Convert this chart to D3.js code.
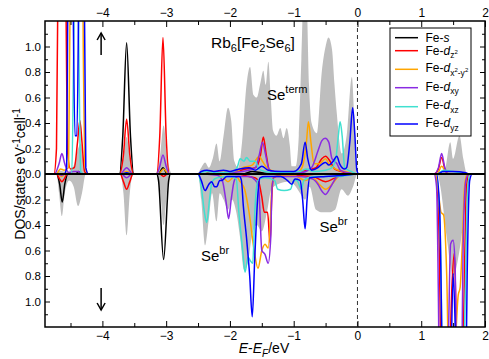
<!DOCTYPE html>
<html><head><meta charset="utf-8">
<script src="https://cdn.jsdelivr.net/npm/d3@7"></script>
<style>body{margin:0;background:#fff}svg{display:block;font-family:"Liberation Sans",Arial,sans-serif}</style>
</head><body><svg id="c" width="489" height="359"></svg>
<script>
// ---------- DATA (energy in eV, DOS in states eV^-1 cell^-1; "dn" = spin-down magnitude) ----------
const xTicks = [-4, -3, -2, -1, 0, 1, 2];
const yTickLabels = [-1.0, -0.8, -0.6, -0.4, -0.2, 0.0, 0.2, 0.4, 0.6, 0.8, 1.0];

const se_up = [[-4.9,0],[-4.74,0],[-4.68,0.03],[-4.6,0.02],[-4.5,0.03],[-4.44,0.08],[-4.38,0.2],[-4.34,0.24],[-4.3,0.12],[-4.25,0],
[-3.76,0],[-3.68,0.1],[-3.62,0.29],[-3.56,0.1],[-3.48,0],
[-3.18,0],[-3.1,0.12],[-3.04,0.38],[-2.98,0.12],[-2.9,0],
[-2.52,0],[-2.45,0.05],[-2.39,0.09],[-2.33,0.05],[-2.27,0.12],[-2.21,0.24],[-2.16,0.1],[-2.1,0.3],[-2.03,0.52],[-1.98,0.42],[-1.93,0.1],[-1.87,0.05],[-1.81,0.25],[-1.74,0.7],[-1.684,0.84],[-1.63,0.62],[-1.58,0.6],[-1.52,0.72],[-1.476,0.81],[-1.44,0.7],[-1.397,0.88],[-1.36,0.6],[-1.323,0.34],[-1.27,0.3],[-1.21,0.36],[-1.16,0.28],[-1.11,0.36],[-1.06,0.22],[-1.03,0.06],[-0.97,0.06],[-0.92,0.3],[-0.88,0.9],[-0.84,1.5],[-0.8,1.4],[-0.76,0.7],[-0.72,0.4],[-0.637,0.32],[-0.56,0.8],[-0.5,1.0],[-0.455,1.07],[-0.4,0.98],[-0.36,0.7],[-0.323,0.47],[-0.245,0.16],[-0.17,0.3],[-0.088,0.76],[-0.05,0.45],[-0.01,0],
[1.3,0],[1.38,0.05],[1.455,0.25],[1.5,0.12],[1.6,0.3],[1.66,0.12],[1.72,0],[2.0,0]];
const se_dn = [[-4.9,0],[-4.72,0],[-4.68,0.15],[-4.635,0.33],[-4.59,0.15],[-4.52,0.05],[-4.45,0.1],[-4.38,0.25],[-4.32,0.15],[-4.26,0],
[-3.72,0],[-3.67,0.15],[-3.62,0.48],[-3.57,0.15],[-3.52,0],
[-3.15,0],[-3.09,0.15],[-3.04,0.4],[-2.99,0.15],[-2.93,0],
[-2.5,0],[-2.45,0.2],[-2.39,0.56],[-2.33,0.35],[-2.28,0.15],[-2.21,0.37],[-2.16,0.15],[-2.1,0.2],[-2.03,0.28],[-1.97,0.2],[-1.9,0.3],[-1.84,0.5],[-1.78,0.75],[-1.72,0.7],[-1.66,0.5],[-1.58,0.4],[-1.5,0.45],[-1.42,0.3],[-1.35,0.12],[-1.25,0.08],[-1.1,0.06],[-1.0,0.08],[-0.9,0.15],[-0.82,0.2],[-0.75,0.1],[-0.65,0.28],[-0.55,0.3],[-0.45,0.3],[-0.35,0.28],[-0.25,0.12],[-0.15,0.17],[-0.07,0.1],[0,0],
[1.25,0],[1.3,0.1],[1.4,0.5],[1.5,0.8],[1.6,0.6],[1.7,0.2],[1.75,0],[2,0]];

const feS_up = [[-4.9,0],[-4.42,0],[-4.37,0.02],[-4.32,0],[-3.73,0],[-3.68,0.3],[-3.62,1.03],[-3.56,0.3],[-3.51,0],[-3.12,0],[-3.05,0.05],[-2.98,0],[-1.8,0],[-1.65,0.02],[-1.5,0.01],[-1.3,0],[2,0]];
const feS_dn = [[-4.9,0],[-4.72,0],[-4.67,0.08],[-4.63,0.22],[-4.59,0.08],[-4.54,0],[-3.15,0],[-3.12,0.05],[-3.04,0.67],[-2.96,0.05],[-2.93,0],[2,0]];

const feDz2_up = [[-4.9,0],[-4.76,0],[-4.72,0.2],[-4.69,2],[-4.635,4],[-4.58,2],[-4.55,0.2],[-4.5,0.04],[-4.44,0.05],[-4.39,0.25],[-4.353,0.42],[-4.32,0.25],[-4.28,0.02],[-4.24,0],
[-3.73,0],[-3.67,0.15],[-3.62,0.43],[-3.57,0.15],[-3.51,0],
[-3.15,0],[-3.1,0.3],[-3.05,1.07],[-3.0,0.3],[-2.95,0],
[-2.4,0],[-2.3,0.02],[-2.1,0.01],[-1.9,0.02],[-1.75,0.04],[-1.6,0.05],[-1.52,0.15],[-1.476,0.29],[-1.43,0.15],[-1.38,0.03],[-1.2,0.01],[-0.9,0.02],[-0.8,0.03],[-0.65,0.05],[-0.56,0.12],[-0.5,0.14],[-0.43,0.1],[-0.36,0.04],[-0.25,0.02],[-0.1,0],
[1.2,0],[1.27,0.04],[1.32,0.13],[1.37,0.04],[1.42,0],[2,0]];
const feDz2_dn = [[-4.9,0],[-4.72,0],[-4.67,0.04],[-4.635,0.06],[-4.6,0.04],[-4.55,0],
[-3.72,0],[-3.67,0.06],[-3.62,0.12],[-3.57,0.06],[-3.52,0],
[-3.1,0],[-3.04,0.02],[-2.98,0],
[-1.9,0],[-1.7,0.02],[-1.6,0.03],[-1.55,0.06],[-1.5,0.18],[-1.46,0.3],[-1.41,0.3],[-1.37,0.54],[-1.345,0.2],[-1.32,0.03],[-1.2,0.01],[-0.7,0.02],[-0.5,0.06],[-0.35,0.03],[-0.2,0],
[1.22,0],[1.27,0.3],[1.31,1.5],[1.36,2.5],[1.42,2],[1.48,0.9],[1.52,0.62],[1.56,1.5],[1.62,2.5],[1.67,1],[1.71,0.1],[1.75,0],[2,0]];

const feDx2y2_up = [[-4.9,0],[-4.72,0],[-4.66,0.04],[-4.6,0.03],[-4.53,0.05],[-4.49,2.5],[-4.46,4],[-4.42,2.5],[-4.39,1.2],[-4.36,2],[-4.33,3],[-4.3,1],[-4.27,0.05],[-4.22,0],
[-3.72,0],[-3.62,0.02],[-3.52,0],[-3.12,0],[-3.04,0.04],[-2.96,0],
[-2.4,0],[-2.2,0.01],[-1.9,0.02],[-1.8,0.05],[-1.65,0.07],[-1.58,0.12],[-1.54,0.14],[-1.49,0.1],[-1.4,0.04],[-1.2,0.01],[-0.95,0.01],[-0.87,0.05],[-0.8,0.25],[-0.769,0.41],[-0.73,0.25],[-0.68,0.08],[-0.6,0.08],[-0.5,0.12],[-0.45,0.08],[-0.35,0.04],[-0.2,0.02],[0,0],
[1.25,0],[1.32,0.06],[1.38,0.02],[1.45,0],[2,0]];
const feDx2y2_dn = [[-4.9,0],[-4.7,0],[-4.64,0.02],[-4.58,0],
[-2.2,0],[-2.1,0.03],[-2.03,0.06],[-1.96,0.03],[-1.9,0.02],[-1.84,0.06],[-1.77,0.12],[-1.7,0.3],[-1.62,0.6],[-1.56,0.74],[-1.5,0.6],[-1.45,0.55],[-1.4,0.58],[-1.36,0.3],[-1.34,0.08],[-1.3,0.02],[-1.0,0.01],[-0.82,0.05],[-0.7,0.03],[-0.6,0.08],[-0.5,0.12],[-0.4,0.08],[-0.3,0.02],[-0.2,0],
[1.22,0],[1.27,0.15],[1.31,0.3],[1.35,0.32],[1.4,0.8],[1.45,2],[1.52,1.5],[1.58,0.95],[1.61,0.89],[1.64,0.6],[1.68,0.1],[1.72,0],[2,0]];

const feDxy_up = [[-4.9,0],[-4.75,0],[-4.68,0.08],[-4.635,0.16],[-4.59,0.08],[-4.53,0.01],[-4.45,0.02],[-4.38,0.02],[-4.3,0],
[-3.72,0],[-3.62,0.05],[-3.52,0],
[-3.15,0],[-3.1,0.06],[-3.05,0.15],[-3.0,0.06],[-2.95,0],
[-2.4,0],[-2.1,0.01],[-1.8,0.02],[-1.6,0.05],[-1.54,0.15],[-1.49,0.25],[-1.44,0.15],[-1.39,0.04],[-1.3,0.01],[-0.9,0.01],[-0.72,0.05],[-0.62,0.18],[-0.56,0.26],[-0.507,0.28],[-0.45,0.25],[-0.4,0.12],[-0.32,0.08],[-0.27,0.03],[-0.15,0.01],[0,0],
[1.2,0],[1.27,0.05],[1.32,0.16],[1.37,0.05],[1.42,0],[2,0]];
const feDxy_dn = [[-4.9,0],[-4.7,0],[-4.64,0.01],[-4.58,0],
[-3.7,0],[-3.62,0.03],[-3.54,0],
[-2.5,0],[-2.2,0.01],[-2.12,0.05],[-2.06,0.22],[-2.02,0.35],[-1.98,0.2],[-1.93,0.05],[-1.88,0.02],[-1.7,0.02],[-1.6,0.05],[-1.55,0.1],[-1.5,0.6],[-1.45,0.63],[-1.4,0.7],[-1.36,0.5],[-1.34,0.1],[-1.3,0.02],[-0.9,0.02],[-0.7,0.04],[-0.62,0.08],[-0.55,0.14],[-0.5,0.16],[-0.42,0.1],[-0.35,0.04],[-0.25,0],
[1.2,0],[1.24,0.1],[1.27,1.0],[1.3,2.5],[1.38,2.5],[1.43,1.2],[1.46,0.55],[1.5,0.52],[1.53,0.7],[1.57,2],[1.62,2],[1.66,0.5],[1.7,0.05],[1.75,0],[2,0]];

const feDxz_up = [[-4.9,0],[-4.48,0],[-4.45,1],[-4.41,3],[-4.37,1],[-4.34,0.02],[-4.3,0],
[-3.7,0],[-3.62,0.01],[-3.54,0],
[-2.5,0],[-2.4,0.02],[-2.2,0.01],[-1.95,0.02],[-1.88,0.06],[-1.84,0.12],[-1.78,0.1],[-1.74,0.13],[-1.68,0.1],[-1.6,0.1],[-1.55,0.04],[-1.45,0.02],[-1.3,0.01],[-0.9,0.02],[-0.8,0.04],[-0.7,0.02],[-0.5,0.03],[-0.4,0.05],[-0.34,0.12],[-0.3,0.3],[-0.272,0.41],[-0.24,0.3],[-0.2,0.05],[-0.1,0.02],[0,0],
[1.25,0],[1.35,0.03],[1.6,0.01],[1.7,0],[2,0]];
const feDxz_dn = [[-4.9,0],[-2.5,0],[-2.45,0.1],[-2.4,0.3],[-2.364,0.38],[-2.32,0.2],[-2.28,0.06],[-2.2,0.03],[-2.0,0.02],[-1.9,0.04],[-1.86,0.3],[-1.8,0.6],[-1.763,0.77],[-1.716,0.65],[-1.68,0.68],[-1.642,0.7],[-1.61,0.3],[-1.56,0.05],[-1.45,0.03],[-1.3,0.05],[-1.25,0.12],[-1.15,0.13],[-1.05,0.12],[-1.0,0.05],[-0.95,0.05],[-0.88,0.12],[-0.84,0.05],[-0.7,0.02],[-0.3,0.02],[0,0],
[1.24,0],[1.3,0.5],[1.35,2],[1.45,2],[1.5,1.5],[1.6,2],[1.68,1.2],[1.73,0.1],[1.77,0],[2,0]];

const feDyz_up = [[-4.9,0],[-4.6,0],[-4.56,0.05],[-4.53,2.5],[-4.5,3.5],[-4.47,2],[-4.43,0.3],[-4.4,0.3],[-4.36,2],[-4.32,3.5],[-4.29,2],[-4.26,0.05],[-4.22,0],
[-3.7,0],[-3.62,0.01],[-3.54,0],
[-2.5,0],[-2.45,0.02],[-2.36,0.03],[-2.25,0.02],[-2.1,0.03],[-2.0,0.02],[-1.85,0.04],[-1.7,0.05],[-1.6,0.03],[-1.5,0.06],[-1.4,0.03],[-1.2,0.02],[-1.0,0.02],[-0.88,0.08],[-0.821,0.25],[-0.78,0.12],[-0.72,0.03],[-0.62,0.05],[-0.55,0.08],[-0.5,0.09],[-0.45,0.07],[-0.38,0.1],[-0.323,0.14],[-0.28,0.08],[-0.2,0.04],[-0.17,0.05],[-0.12,0.25],[-0.075,0.52],[-0.04,0.3],[-0.01,0.03],[0.02,0],
[1.25,0],[1.35,0.02],[1.5,0.02],[1.7,0.01],[1.75,0],[2,0]];
const feDyz_dn = [[-4.9,0],[-2.5,0],[-2.45,0.05],[-2.39,0.13],[-2.33,0.08],[-2.286,0.06],[-2.24,0.1],[-2.207,0.1],[-2.16,0.05],[-2.129,0.05],[-2.05,0.02],[-1.85,0.02],[-1.82,0.05],[-1.79,0.25],[-1.74,0.5],[-1.69,0.8],[-1.65,1.12],[-1.61,0.65],[-1.56,0.15],[-1.53,0.03],[-1.45,0.02],[-1.2,0.02],[-1.1,0.05],[-1.03,0.08],[-0.98,0.04],[-0.9,0.05],[-0.86,0.2],[-0.821,0.43],[-0.79,0.2],[-0.75,0.03],[-0.5,0.02],[-0.2,0.01],[0,0],
[1.24,0],[1.29,0.3],[1.33,1.5],[1.37,2.5],[1.45,2],[1.5,0.78],[1.55,1.5],[1.62,2.5],[1.69,2],[1.72,0.8],[1.76,0.05],[1.8,0],[2,0]];

const seriesNames = ["s", "dz2", "dx2y2", "dxy", "dxz", "dyz"];
const seriesColors = ["#000000", "#ff0000", "#ffa500", "#8a2be2", "#40e0d0", "#0000ff"];
const seriesUp = [feS_up, feDz2_up, feDx2y2_up, feDxy_up, feDxz_up, feDyz_up];
const seriesDn = [feS_dn, feDz2_dn, feDx2y2_dn, feDxy_dn, feDxz_dn, feDyz_dn];

// ---------- CHART ----------
const L = 45, R = 485, T = 21, B = 327;
const x = d3.scaleLinear().domain([-4.9, 2.0]).range([L, R]);
const y = d3.scaleLinear().domain([-1.2, 1.2]).range([B, T]);
const svg = d3.select('#c');

svg.append('defs').append('clipPath').attr('id', 'clip')
  .append('rect').attr('x', L).attr('y', T).attr('width', R - L).attr('height', B - T);
const plot = svg.append('g').attr('clip-path', 'url(#clip)');

const area = s => d3.area().x(d => x(d[0])).y0(y(0)).y1(d => y(s * d[1])).curve(d3.curveMonotoneX);
const line = s => d3.line().x(d => x(d[0])).y(d => y(s * d[1])).curve(d3.curveMonotoneX);

plot.append('path').datum(se_up).attr('d', area(1)).attr('fill', '#bebebe');
plot.append('path').datum(se_dn).attr('d', area(-1)).attr('fill', '#bebebe');

plot.append('line').attr('x1', x(0)).attr('x2', x(0)).attr('y1', T).attr('y2', B)
  .attr('stroke', '#333').attr('stroke-width', 1).attr('stroke-dasharray', '4,3');

seriesNames.forEach((n, i) => {
  plot.append('path').datum(seriesUp[i]).attr('d', line(1)).attr('fill', 'none')
    .attr('stroke', seriesColors[i]).attr('stroke-width', 1.5);
  plot.append('path').datum(seriesDn[i]).attr('d', line(-1)).attr('fill', 'none')
    .attr('stroke', seriesColors[i]).attr('stroke-width', 1.5);
});

// zero line
svg.append('line').attr('x1', L).attr('x2', R).attr('y1', y(0)).attr('y2', y(0))
  .attr('stroke', '#000').attr('stroke-width', 2.2);

// axes
const fmtY = d => Math.abs(d).toFixed(1);
const yMinor = d3.range(-11, 12, 2).map(v => v / 10);
const xMinor = d3.range(-9, 5, 2).map(v => v / 2);
function styleAxis(g, fs) {
  g.select('.domain').remove();
  g.selectAll('line').attr('stroke', '#000').attr('stroke-width', 1);
  g.selectAll('text').attr('font-size', fs).attr('fill', '#000')
    .attr('font-family', '"Liberation Sans",Arial,sans-serif');
}
svg.append('g').attr('transform', `translate(${L},0)`)
  .call(d3.axisLeft(y).tickValues(yTickLabels).tickSize(-5).tickPadding(4).tickFormat(fmtY))
  .call(g => styleAxis(g, 11.5));
svg.append('g').attr('transform', `translate(${L},0)`)
  .call(d3.axisLeft(y).tickValues(yMinor).tickSize(-3).tickFormat(''))
  .call(g => styleAxis(g, 0));
svg.append('g').attr('transform', `translate(${R},0)`)
  .call(d3.axisRight(y).tickValues(yTickLabels).tickSize(-5).tickFormat(''))
  .call(g => styleAxis(g, 0));
svg.append('g').attr('transform', `translate(${R},0)`)
  .call(d3.axisRight(y).tickValues(yMinor).tickSize(-3).tickFormat(''))
  .call(g => styleAxis(g, 0));
svg.append('g').attr('transform', `translate(0,${B})`)
  .call(d3.axisBottom(x).tickValues(xTicks).tickSize(-6).tickPadding(4).tickFormat(d3.format('d')))
  .call(g => styleAxis(g, 12));
svg.append('g').attr('transform', `translate(0,${B})`)
  .call(d3.axisBottom(x).tickValues(xMinor).tickSize(-4).tickFormat(''))
  .call(g => styleAxis(g, 0));
svg.append('g').attr('transform', `translate(0,${T})`)
  .call(d3.axisTop(x).tickValues(xTicks).tickSize(-6).tickPadding(4).tickFormat(d3.format('d')))
  .call(g => styleAxis(g, 12));
svg.append('g').attr('transform', `translate(0,${T})`)
  .call(d3.axisTop(x).tickValues(xMinor).tickSize(-4).tickFormat(''))
  .call(g => styleAxis(g, 0));

svg.append('rect').attr('x', L).attr('y', T).attr('width', R - L).attr('height', B - T)
  .attr('fill', 'none').attr('stroke', '#000').attr('stroke-width', 1.5);

// rich text helper: parts [text, fontSize, offset(dy from baseline), italic]
function rich(parent, px, py, parts, attrs) {
  const t = parent.append('text').attr('x', px).attr('y', py).attr('fill', '#000');
  if (attrs) Object.entries(attrs).forEach(([k, v]) => t.attr(k, v));
  let cur = 0;
  parts.forEach(([s, fs, off, it]) => {
    t.append('tspan').attr('dy', off - cur).attr('font-size', fs)
      .attr('font-style', it ? 'italic' : 'normal').text(s);
    cur = off;
  });
  return t;
}

// legend
const lg = svg.append('g');
lg.append('rect').attr('x', 390).attr('y', 28).attr('width', 81).attr('height', 108)
  .attr('fill', '#fff').attr('stroke', '#000').attr('stroke-width', 1);
const lineYs = [37.7, 50.7, 69.3, 87.7, 106.7, 124];
const textYs = [41.8, 54.5, 72, 90.5, 109, 127];
const legendParts = [
  [["Fe-", 12, 0], ["s", 12, 0, true]],
  [["Fe-", 12, 0], ["d", 12, 0, true], ["z", 8.5, 3.5], ["2", 6, -0.5]],
  [["Fe-", 12, 0], ["d", 12, 0, true], ["x", 8.5, 3.5], ["2", 6, -0.5], ["-y", 8.5, 3.5], ["2", 6, -0.5]],
  [["Fe-", 12, 0], ["d", 12, 0, true], ["xy", 8.5, 3.5]],
  [["Fe-", 12, 0], ["d", 12, 0, true], ["xz", 8.5, 3.5]],
  [["Fe-", 12, 0], ["d", 12, 0, true], ["yz", 8.5, 3.5]]
];
seriesNames.forEach((n, i) => {
  lg.append('line').attr('x1', 395).attr('x2', 418).attr('y1', lineYs[i]).attr('y2', lineYs[i])
    .attr('stroke', seriesColors[i]).attr('stroke-width', 1.5);
  rich(lg, 425.5, textYs[i], legendParts[i]);
});

// annotations
rich(svg, 211, 48, [["Rb", 15.5, 0], ["6", 11, 4], ["[Fe", 15.5, 0], ["2", 11, 4], ["Se", 15.5, 0], ["6", 11, 4], ["]", 15.5, 0]]);
rich(svg, 267, 99.5, [["Se", 15, 0], ["term", 11, -7]]);
rich(svg, 201, 261, [["Se", 15, 0], ["br", 11, -7]]);
rich(svg, 319.5, 232, [["Se", 15, 0], ["br", 11, -7]]);

// axis titles
rich(svg, 264, 353, [["E", 14, 0, true], ["-", 14, 0], ["E", 14, 0, true], ["F", 10, 3.5, true], ["/eV", 14, 0]],
  {'text-anchor': 'middle'});
rich(svg, 0, 0, [["DOS/states eV", 14, 0], ["-1", 10, -5.5], ["cell", 14, 0], ["-1", 10, -5.5]],
  {'text-anchor': 'middle', 'transform': `translate(25,${y(0)}) rotate(-90)`});

// spin arrows
const ax = x(-4.02);
const arr = svg.append('g').attr('stroke', '#000').attr('stroke-width', 1.5).attr('fill', 'none');
arr.append('line').attr('x1', ax).attr('x2', ax).attr('y1', 55).attr('y2', 33);
arr.append('polyline').attr('points', `${ax-4},40 ${ax},33 ${ax+4},40`);
arr.append('line').attr('x1', ax).attr('x2', ax).attr('y1', 288).attr('y2', 310);
arr.append('polyline').attr('points', `${ax-4},303 ${ax},310 ${ax+4},303`);
</script></body></html>
